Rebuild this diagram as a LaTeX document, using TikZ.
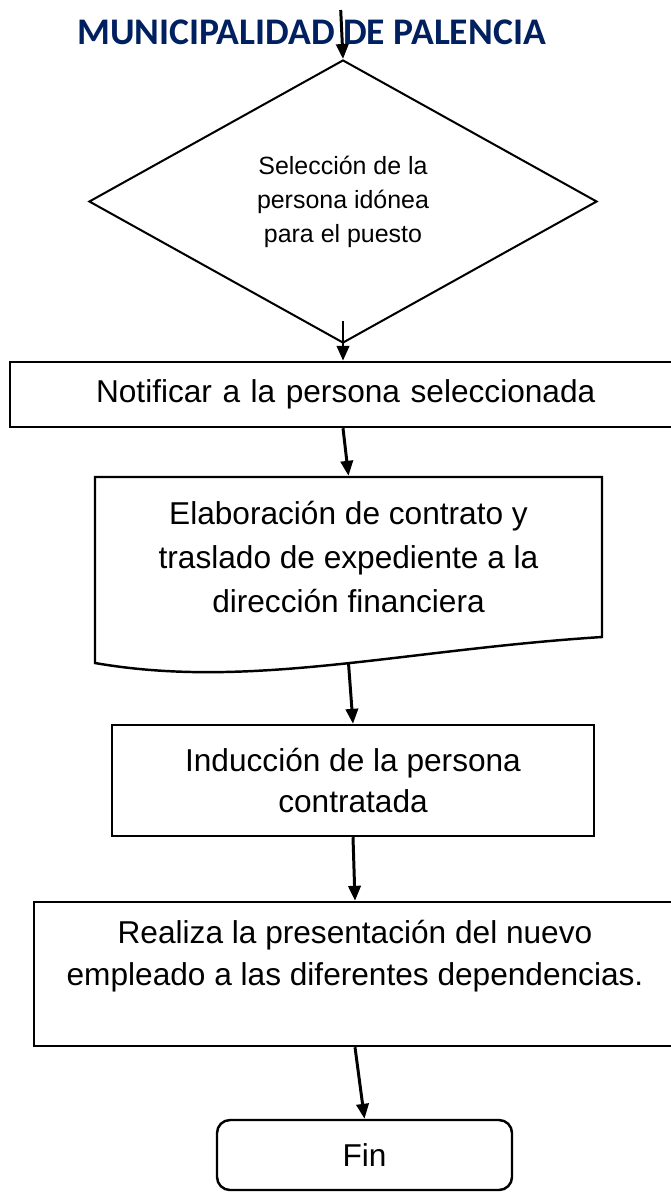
\documentclass[tikz,border=0pt]{standalone}
\usepackage{fontspec}
\setmainfont{Liberation Sans}
\newfontfamily\titlefont{Carlito}
\usetikzlibrary{shapes.geometric,arrows.meta,calc}
\definecolor{azul}{RGB}{0,32,96}
\def\pu{0.02cm}
\begin{document}
\begin{tikzpicture}[x=\pu,y=-\pu,>={Triangle[length=8.5pt,width=7pt]},
	caja/.style={draw,line width=1.4pt,inner sep=0pt,align=center,font=\fontsize{18}{23.8}\selectfont},
	flecha/.style={->,line width=1.7pt}]
	\useasboundingbox (0,0) rectangle (671,1192);
	\clip (0,0) rectangle (671,1192);
	\node[anchor=base,inner sep=0pt,text=azul,font=\titlefont\bfseries\fontsize{21.4}{24}\selectfont] (titulo) at (311.5,45) {MUNICIPALIDAD DE PALENCIA};
	\node[draw,diamond,line width=1.15pt,inner sep=0pt,minimum width=508*\pu,minimum height=283*\pu,align=center,font=\fontsize{14.2}{19.3}\selectfont] (sel) at (343,201.5) {Selección de la\\persona idónea\\para el puesto};
	\node[caja,align=left,text width=10.16cm,inner xsep=1.72cm,minimum height=65*\pu] (notif) at (350,394.5) {Notificar a la persona seleccionada};
	\node[caja,draw=none,minimum width=507*\pu,minimum height=160*\pu,font=\fontsize{18}{25}\selectfont] (contrato) at (348.5,557) {Elaboración de contrato y\\traslado de expediente a la\\dirección financiera};
	\draw[line width=1.4pt] (95,663)--(95,477)--(602,477)--(602,637) .. controls (400,650) and (250,690) .. (95,663)--cycle;
	\node[caja,minimum width=482*\pu,minimum height=111*\pu] (induc) at (353,780.5) {Inducción de la persona\\contratada};
	\node[caja,minimum width=642*\pu,minimum height=144*\pu] (present) at (355,974) {Realiza la presentación del nuevo\\empleado a las diferentes dependencias.\\\mbox{}};
	\node[caja,rounded corners=7.4pt,minimum width=295*\pu,minimum height=70*\pu] (fin) at (364.5,1155) {Fin};
	\coordinate (ini) at (340.7,10);
	\draw[flecha] (ini)--(sel.north);
	\draw[flecha] ($(sel.south)+(0,-23)$)--(sel.south |- notif.north);
	\draw[flecha] (sel.south |- notif.south)--(contrato.north);
	\draw[flecha] ($(contrato.south)+(0,25)$)--(induc.north);
	\foreach \a/\b in {induc.south/present.north,present.south/fin.north}\draw[flecha] (\a)--(\b);
\end{tikzpicture}
\end{document}
